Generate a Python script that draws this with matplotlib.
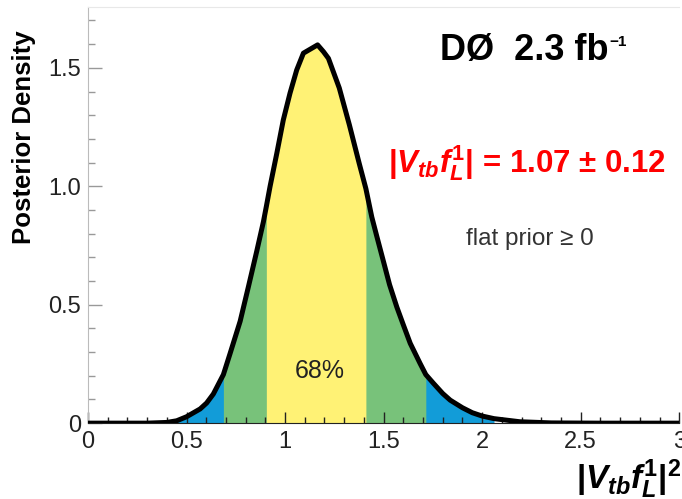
import matplotlib
matplotlib.use('Agg')
import numpy as np
import matplotlib.pyplot as plt
from matplotlib.ticker import MultipleLocator

plt.rcParams['font.family'] = ['Liberation Sans', 'DejaVu Sans']
plt.rcParams['mathtext.fontset'] = 'custom'
plt.rcParams['mathtext.rm'] = 'Liberation Sans:bold'
plt.rcParams['mathtext.it'] = 'Liberation Sans:bold:italic'
plt.rcParams['mathtext.bf'] = 'Liberation Sans:bold'

# posterior density of |Vtb fL1|^2
vtb2 = [0.0, 0.30, 0.40, 0.45, 0.50, 0.569, 0.602, 0.636, 0.687, 0.721,
        0.772, 0.814, 0.856, 0.890, 0.905, 0.924, 0.958, 0.991, 1.025, 1.059,
        1.093, 1.130, 1.165, 1.195, 1.220, 1.275, 1.326, 1.376, 1.410, 1.440,
        1.465, 1.500, 1.530, 1.567, 1.600, 1.635, 1.685, 1.714, 1.753, 1.800,
        1.838, 1.900, 1.950, 2.000, 2.060, 2.190, 2.350, 2.600, 3.0]
density = [0.0, 0.0, 0.003, 0.010, 0.027, 0.060, 0.085, 0.123, 0.205, 0.294,
           0.430, 0.576, 0.725, 0.850, 0.915, 1.000, 1.139, 1.280, 1.393, 1.491,
           1.562, 1.580, 1.597, 1.568, 1.540, 1.415, 1.260, 1.097, 0.990, 0.870,
           0.790, 0.680, 0.585, 0.490, 0.415, 0.337, 0.252, 0.205, 0.168, 0.125,
           0.097, 0.065, 0.044, 0.030, 0.019, 0.006, 0.001, 0.0, 0.0]

# credible intervals (widest first)
bands = [(0.45, 2.06, '#129cd8'),
         (0.687, 1.714, '#78c27a'),
         (0.905, 1.41, '#fff275')]

xticks = [0, 0.5, 1, 1.5, 2, 2.5, 3]
xticklabels = ['0', '0.5', '1', '1.5', '2', '2.5', '3']
yticks = [0, 0.5, 1.0, 1.5]
yticklabels = ['0', '0.5', '1.0', '1.5']

x = np.array(vtb2)
y = np.array(density)

fig = plt.figure(figsize=(6.82, 4.99), dpi=100)
ax = fig.add_axes([0.129, 0.152, 0.867, 0.834])

for lo, hi, col in bands:
    mask = (x >= lo - 1e-9) & (x <= hi + 1e-9)
    ax.fill_between(x, 0, y, where=mask, color=col, lw=0, zorder=1)

ax.plot(x, y, color='black', lw=3.6, solid_joinstyle='round', zorder=3)

ax.set_xlim(0, 3)
ax.set_ylim(0, 1.757)

ax.set_xticks(xticks)
ax.set_xticklabels(xticklabels)
ax.set_yticks(yticks)
ax.set_yticklabels(yticklabels)
ax.xaxis.set_minor_locator(MultipleLocator(0.1))
ax.yaxis.set_minor_locator(MultipleLocator(0.1))

ax.tick_params(axis='x', which='both', direction='in', colors='#222222',
               labelsize=17, pad=6)
ax.tick_params(axis='x', which='major', length=8, width=1)
ax.tick_params(axis='x', which='minor', length=4, width=1)
ax.tick_params(axis='y', which='both', direction='in', color='#999999',
               labelcolor='#222222', labelsize=17, pad=5)
ax.tick_params(axis='y', which='major', length=10, width=1)
ax.tick_params(axis='y', which='minor', length=5, width=1)

ax.spines['right'].set_visible(False)
ax.spines['top'].set_color('#e8e8e8')
ax.spines['left'].set_color('#bbbbbb')
ax.spines['bottom'].set_color('#222222')

fig.text(0.035, 0.94, 'Posterior Density', rotation=90, ha='center',
         va='top', fontsize=18.5, fontweight='bold')
fig.text(0.999, 0.02, r'$|V_{tb}f_{L}^{1}|^{2}$', ha='right',
         va='baseline', fontsize=24)

lumi = ax.text(1.787, 1.534, 'DØ  2.3 fb', fontsize=26, fontweight='bold',
               va='baseline')
ax.annotate('\u22121', xy=(1.0, 1.0), xycoords=lumi, xytext=(0.5, -1.5),
            textcoords='offset points', fontsize=11, fontweight='bold',
            va='top', ha='left')
ax.text(1.523, 1.06, r'$|V_{tb}f_{L}^{1}|$ = 1.07 ± 0.12', fontsize=22.5,
        fontweight='bold', color='#ff0000', va='baseline')
ax.text(1.919, 0.752, 'flat prior ≥ 0', fontsize=17.5, color='#333333',
        va='baseline')
ax.text(1.178, 0.19, '68%', fontsize=18, color='#222222', ha='center',
        va='baseline', zorder=4)

fig.savefig('out.png', dpi=100)
